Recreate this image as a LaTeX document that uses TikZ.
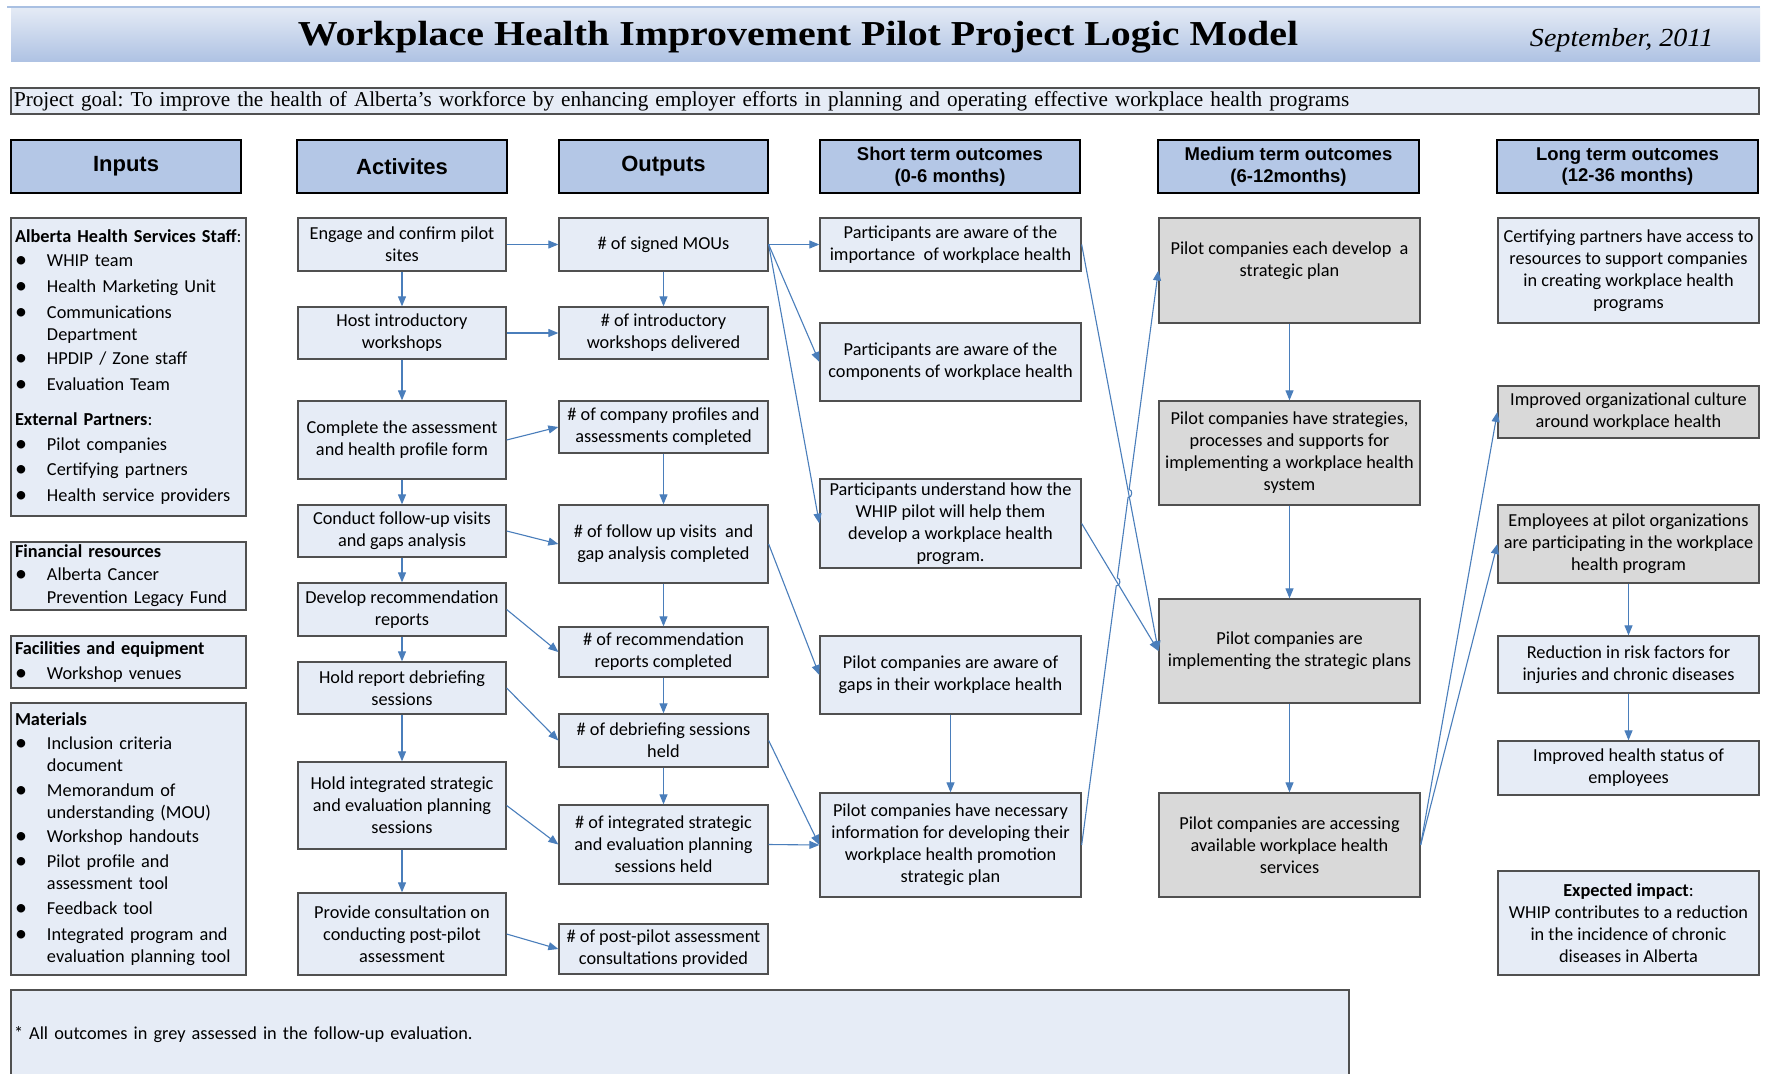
\documentclass[tikz,border=0pt]{standalone}
\usepackage{fontspec}
\setmainfont{Carlito}
\newfontfamily\hdrfont{Liberation Sans}
\newfontfamily\titlefont{Liberation Serif}
\usetikzlibrary{calc,arrows.meta}

\definecolor{boxfill}{HTML}{E6ECF6}
\definecolor{greyfill}{HTML}{D9D9D9}
\definecolor{hdrfill}{HTML}{B4C7E6}
\definecolor{edge}{HTML}{505050}
\definecolor{linkblue}{HTML}{4A7EBB}
\definecolor{bandtop}{HTML}{E3EAF5}
\definecolor{bandbot}{HTML}{AEC2E3}
\definecolor{bandline}{HTML}{A9C0E2}

% bullet item and continuation indent for the resource lists
\newcommand{\itm}[1]{\makebox[32pt][l]{\raisebox{-1pt}{\fontsize{24}{24}\selectfont\textbullet}}#1}
\newcommand{\cont}{\hspace*{32pt}}

\tikzset{
  box/.style={draw=edge, line width=1.3pt, fill=boxfill, align=center, inner sep=2pt,
    font=\fontsize{18.3}{22}\selectfont},
  greybox/.style={box, fill=greyfill},
  acol/.style={box, minimum width=208pt},
  ocol/.style={box, minimum width=209pt},
  wcol/.style={box, minimum width=261pt},
  gcol/.style={greybox, minimum width=261pt},
  inbox/.style={box, align=left, text width=227pt, inner xsep=4pt},
  hdr/.style={draw=black, line width=1.8pt, fill=hdrfill, align=center, minimum height=53pt,
    font=\hdrfont\bfseries\fontsize{22}{26}\selectfont},
  hdrtwo/.style={hdr, font=\hdrfont\bfseries\fontsize{18.5}{21.5}\selectfont},
  conn/.style={draw=linkblue, line width=1.1pt, -{Triangle[length=10pt,width=8pt]}},
}

\begin{document}
\frenchspacing
\begin{tikzpicture}[x=1pt,y=-1pt]
\useasboundingbox (0,0) rectangle (1768,1073);
\fill[white] (0,0) rectangle (1768,1073);
\clip (0,0) rectangle (1768,1073);

% title band
\fill[bandline] (7,6) rectangle (1760,8.5);
\shade[top color=bandtop, bottom color=bandbot] (11,8.5) rectangle (1760,62);
\node (title) at (798,37) {\scalebox{1.14}[1]{\titlefont\bfseries\fontsize{35}{40}\selectfont Workplace Health Improvement Pilot Project Logic Model}};
\node[anchor=east] (date) at (1717,40) {\scalebox{1.08}[1]{\titlefont\itshape\fontsize{26}{30}\selectfont September, 2011}};

% project goal
\node[draw=edge, line width=1.2pt, fill=boxfill, minimum width=1748pt, minimum height=26pt,
  text width=1742pt, inner xsep=3pt, inner ysep=0pt, align=left,
  font=\titlefont\fontsize{21.2}{24}\selectfont] (goal) at (885,101)
  {Project goal: To improve the health of Alberta’s workforce by enhancing employer efforts in planning and operating effective workplace health programs};

% column headers
\node[hdr, minimum width=230pt] (hin) at (126,166.5) {Inputs};
\node[hdr, minimum width=210pt] (hact) at (402,166.5) {Activites};
\node[hdr, minimum width=209pt] (hout) at (663.5,166.5) {Outputs};
\node[hdrtwo, minimum width=260pt] (hshort) at (950,166.5) {Short term outcomes\\(0-6 months)};
\node[hdrtwo, minimum width=261pt] (hmed) at (1288.5,166.5) {Medium term outcomes\\(6-12months)};
\node[hdrtwo, minimum width=261pt] (hlong) at (1627.5,166.5) {Long term outcomes\\(12-36 months)};

% inputs
\node[inbox, minimum height=298pt] (ahs) at (128.5,367) {%
  \textbf{Alberta Health Services Staff}:\\[2pt]
  \itm{WHIP team}\\[4pt]
  \itm{Health Marketing Unit}\\[4pt]
  \itm{Communications}\\
  \cont Department\\[2pt]
  \itm{HPDIP / Zone staff}\\[4pt]
  \itm{Evaluation Team}\\[13pt]
  \textbf{External Partners}:\\[3pt]
  \itm{Pilot companies}\\[3pt]
  \itm{Certifying partners}\\[4pt]
  \itm{Health service providers}};
\node[inbox, minimum height=68pt] (fin) at (128.5,576) {%
  \textbf{Financial resources}\\[1pt]
  \itm{Alberta Cancer}\\[1pt]
  \cont Prevention Legacy Fund};
\node[inbox, minimum height=52pt] (fac) at (128.5,662) {%
  \textbf{Facilities and equipment}\\[3pt]
  \itm{Workshop venues}};
\node[inbox, minimum height=272pt] (mat) at (128.5,839) {%
  \textbf{Materials}\\[2pt]
  \itm{Inclusion criteria}\\
  \cont document\\[3pt]
  \itm{Memorandum of}\\
  \cont understanding (MOU)\\[2pt]
  \itm{Workshop handouts}\\[3pt]
  \itm{Pilot profile and}\\
  \cont assessment tool\\[3pt]
  \itm{Feedback tool}\\[4pt]
  \itm{Integrated program and}\\
  \cont evaluation planning tool};

% activities
\node[acol, minimum height=53pt] (engage) at (402,244.5) {Engage and confirm pilot\\sites};
\node[acol, minimum height=52pt] (host) at (402,333) {Host introductory\\workshops};
\node[acol, minimum height=78pt] (complete) at (402,440) {Complete the assessment\\and health profile form};
\node[acol, minimum height=52pt] (conduct) at (402,531) {Conduct follow-up visits\\and gaps analysis};
\node[acol, minimum height=53pt] (develop) at (402,609.5) {Develop recommendation\\reports};
\node[acol, minimum height=52pt] (holdrep) at (402,688) {Hold report debriefing\\sessions};
\node[acol, minimum height=87pt] (holdint) at (402,805.5) {Hold integrated strategic\\and evaluation planning\\sessions};
\node[acol, minimum height=82pt] (provide) at (402,934) {Provide consultation on\\conducting post-pilot\\assessment};

% outputs
\node[ocol, minimum height=53pt] (mous) at (663.5,244.5) {\# of signed MOUs};
\node[ocol, minimum height=52pt] (intro) at (663.5,333) {\# of introductory\\workshops delivered};
\node[ocol, minimum height=52pt] (profiles) at (663.5,427) {\# of company profiles and\\assessments completed};
\node[ocol, minimum height=78pt] (visits) at (663.5,544) {\# of follow up visits~ and\\gap analysis completed};
\node[ocol, minimum height=50pt] (recs) at (663.5,652) {\# of recommendation\\reports completed};
\node[ocol, minimum height=53pt] (debrief) at (663.5,740.5) {\# of debriefing sessions\\held};
\node[ocol, minimum height=79pt] (integ) at (663.5,844.5) {\# of integrated strategic\\and evaluation planning\\sessions held};
\node[ocol, minimum height=50pt] (postp) at (663.5,949) {\# of post-pilot assessment\\consultations provided};

% short term outcomes
\node[wcol, minimum height=53pt] (aware1) at (950.5,244.5) {Participants are aware of the\\importance~ of workplace health};
\node[wcol, minimum height=78pt] (aware2) at (950.5,362) {Participants are aware of the\\components of workplace health};
\node[wcol, minimum height=89pt] (underst) at (950.5,523.5) {Participants understand how the\\WHIP pilot will help them\\develop a workplace health\\program.};
\node[wcol, minimum height=78pt] (gaps) at (950.5,675) {Pilot companies are aware of\\gaps in their workplace health};
\node[wcol, minimum height=104pt] (necinfo) at (950.5,845) {Pilot companies have necessary\\information for developing their\\workplace health promotion\\strategic plan};

% medium term outcomes
\node[gcol, minimum height=105pt] (devplan) at (1289.5,270.5) {Pilot companies each develop~ a\\strategic plan\\\mbox{}};
\node[gcol, minimum height=104pt] (strat) at (1289.5,453) {Pilot companies have strategies,\\processes and supports for\\implementing a workplace health\\system};
\node[gcol, minimum height=104pt] (impl) at (1289.5,651) {Pilot companies are\\implementing the strategic plans};
\node[gcol, minimum height=104pt] (access) at (1289.5,845) {Pilot companies are accessing\\available workplace health\\services};

% long term outcomes
\node[wcol, minimum height=105pt] (certif) at (1628.5,270.5) {Certifying partners have access to\\resources to support companies\\in creating workplace health\\programs};
\node[gcol, minimum height=52pt] (culture) at (1628.5,412) {Improved organizational culture\\around workplace health};
\node[gcol, minimum height=78pt] (employees) at (1628.5,544) {Employees at pilot organizations\\are participating in the workplace\\health program};
\node[wcol, minimum height=57pt] (reduction) at (1628.5,664.5) {Reduction in risk factors for\\injuries and chronic diseases};
\node[wcol, minimum height=54pt] (healthst) at (1628.5,768) {Improved health status of\\employees};
\node[wcol, minimum height=104pt] (impact) at (1628.5,923) {\textbf{Expected impact}:\\WHIP contributes to a reduction\\in the incidence of chronic\\diseases in Alberta};

% footnote panel
\node[box, minimum width=1338pt, minimum height=90pt, text width=1332pt, inner xsep=3pt, align=left] (foot) at (680,1035)
  {* All outcomes in grey assessed in the follow-up evaluation.};

% activity sequence
\draw[conn] (engage) -- (host);
\draw[conn] (host) -- (complete);
\draw[conn] (complete) -- (conduct);
\draw[conn] (conduct) -- (develop);
\draw[conn] (develop) -- (holdrep);
\draw[conn] (holdrep) -- (holdint);
\draw[conn] (holdint) -- (provide);

% activities to outputs
\draw[conn] (engage.east) -- (mous.west);
\draw[conn] (host.east) -- (intro.west);
\draw[conn] (complete.east) -- (profiles.west);
\draw[conn] (conduct.east) -- (visits.west);
\draw[conn] (develop.east) -- (recs.west);
\draw[conn] (holdrep.east) -- (debrief.west);
\draw[conn] (holdint.east) -- (integ.west);
\draw[conn] (provide.east) -- (postp.west);

% output sequence
\draw[conn] (mous) -- (intro);
\draw[conn] (profiles) -- (visits);
\draw[conn] (visits) -- (recs);
\draw[conn] (recs) -- (debrief);
\draw[conn] (debrief) -- (integ);

% outputs to short term outcomes
\draw[conn] (mous.east) -- (aware1.west);
\draw[conn] (mous.east) -- (aware2.west);
\draw[conn] (mous.east) -- (underst.west);
\draw[conn] (visits.east) -- (gaps.west);
\draw[conn] (debrief.east) -- (necinfo.west);
\draw[conn] (integ.east) -- (necinfo.west);
\draw[conn] (gaps) -- (necinfo);

% short term to medium term
\draw[conn] (aware1.east) -- (impl.west);
\draw[conn] (underst.east) -- (impl.west);
\draw[conn] (necinfo.east)
  -- ($(necinfo.east)!0.451!(devplan.west)$) to[bend right=90,looseness=1.3]
     ($(necinfo.east)!0.465!(devplan.west)$)
  -- ($(necinfo.east)!0.605!(devplan.west)$) to[bend right=90,looseness=1.3]
     ($(necinfo.east)!0.619!(devplan.west)$)
  -- (devplan.west);

% medium term sequence
\draw[conn] (devplan) -- (strat);
\draw[conn] (strat) -- (impl);
\draw[conn] (impl) -- (access);

% medium term to long term
\draw[conn] (access.east) -- (culture.west);
\draw[conn] (access.east) -- (employees.west);
\draw[conn] (employees) -- (reduction);
\draw[conn] (reduction) -- (healthst);
\end{tikzpicture}
\end{document}
